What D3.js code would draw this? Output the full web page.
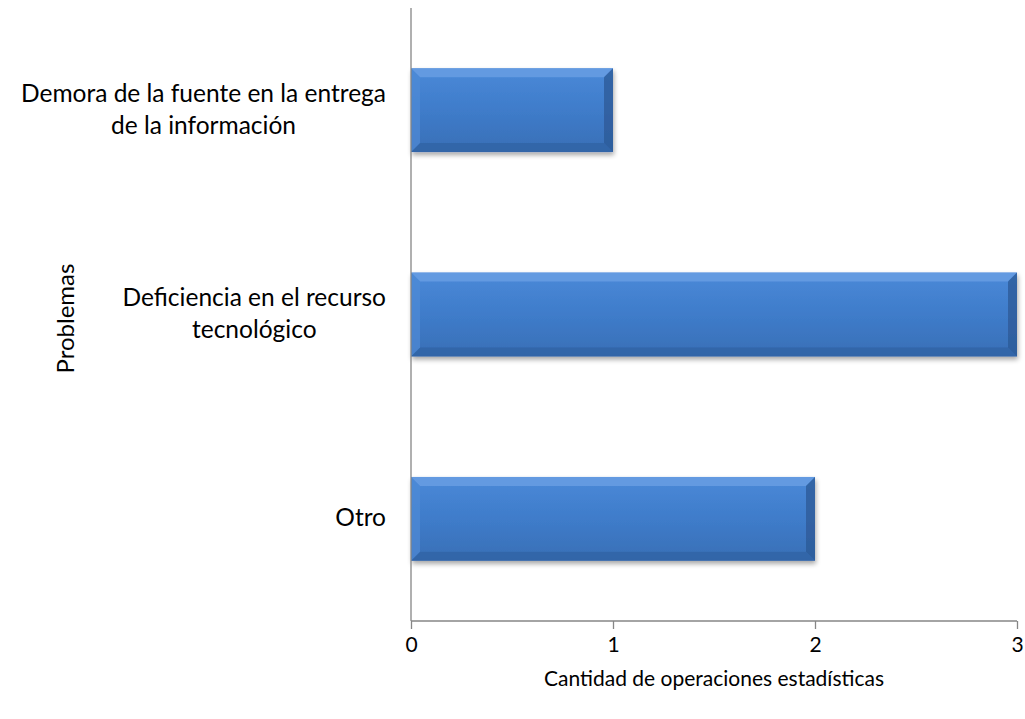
<html>
<head>
<meta charset="utf-8">
<script src="https://d3js.org/d3.v7.min.js"></script>
<style>
    body, html { margin: 0; padding: 0; background: #fff; }
    text { font-family: "Lato", "Liberation Sans", sans-serif; fill: #000; }
</style>
</head>
<body>
<div id="chart"></div>
<script>
// data
var problems = ["Demora de la fuente en la entrega|de la información",
                "Deficiencia en el recurso|tecnológico",
                "Otro"];
var counts = [1, 3, 2];
var xTicks = [0, 1, 2, 3];

var w = 1025, h = 719;
var plotLeft = 411, plotRight = 1017, plotTop = 8, plotBottom = 621;

var svg = d3.select("#chart").append("svg")
    .attr("width", w)
    .attr("height", h);

var defs = svg.append("defs");

var grad = defs.append("linearGradient")
    .attr("id", "barFill")
    .attr("x1", 0).attr("y1", 0).attr("x2", 0).attr("y2", 1);
grad.append("stop").attr("offset", "0%").attr("stop-color", "#4a89d8");
grad.append("stop").attr("offset", "50%").attr("stop-color", "#3f7cca");
grad.append("stop").attr("offset", "100%").attr("stop-color", "#386fb6");

var shadow = defs.append("filter")
    .attr("id", "shadow")
    .attr("x", "-5%").attr("y", "-10%").attr("width", "115%").attr("height", "130%");
shadow.append("feGaussianBlur").attr("in", "SourceAlpha").attr("stdDeviation", 2.5);
shadow.append("feOffset").attr("dx", 1).attr("dy", 3).attr("result", "off");
shadow.append("feComponentTransfer").append("feFuncA").attr("type", "linear").attr("slope", 0.35);
var merge = shadow.append("feMerge");
merge.append("feMergeNode");
merge.append("feMergeNode").attr("in", "SourceGraphic");

var x = d3.scaleLinear()
    .domain([0, 3])
    .range([plotLeft, plotRight]);

var y = d3.scaleBand()
    .domain(problems)
    .range([plotTop, plotBottom])
    .paddingInner(0.59)
    .paddingOuter(0.295);

// bars
var bev = 9;
var bars = svg.append("g")
    .selectAll("g")
    .data(problems)
    .enter()
    .append("g")
    .attr("filter", "url(#shadow)");

bars.append("rect")
    .attr("x", x(0))
    .attr("y", function (d) { return y(d); })
    .attr("width", function (d, i) { return x(counts[i]) - x(0); })
    .attr("height", y.bandwidth())
    .attr("fill", "url(#barFill)");

// bevel edges
bars.append("path")
    .attr("fill", "#6a9fe3")
    .attr("opacity", 0.8)
    .attr("d", function (d, i) {
        var x0 = x(0), x1 = x(counts[i]), y0 = y(d);
        return "M" + x0 + "," + y0 + "L" + x1 + "," + y0 + "L" + (x1 - bev) + "," + (y0 + bev) +
            "L" + (x0 + bev) + "," + (y0 + bev) + "Z";
    });
bars.append("path")
    .attr("fill", "#2c5a96")
    .attr("opacity", 0.75)
    .attr("d", function (d, i) {
        var x1 = x(counts[i]), y0 = y(d), y1 = y0 + y.bandwidth();
        return "M" + x1 + "," + y0 + "L" + x1 + "," + y1 + "L" + (x1 - bev) + "," + (y1 - bev) +
            "L" + (x1 - bev) + "," + (y0 + bev) + "Z";
    });
bars.append("path")
    .attr("fill", "#2f5f9f")
    .attr("opacity", 0.6)
    .attr("d", function (d, i) {
        var x0 = x(0), x1 = x(counts[i]), y1 = y(d) + y.bandwidth();
        return "M" + x0 + "," + y1 + "L" + x1 + "," + y1 + "L" + (x1 - bev) + "," + (y1 - bev) +
            "L" + (x0 + bev) + "," + (y1 - bev) + "Z";
    });
bars.append("path")
    .attr("fill", "#4f8ad6")
    .attr("opacity", 0.7)
    .attr("d", function (d, i) {
        var x0 = x(0), y0 = y(d), y1 = y0 + y.bandwidth();
        return "M" + x0 + "," + y0 + "L" + (x0 + bev) + "," + (y0 + bev) + "L" + (x0 + bev) + "," + (y1 - bev) +
            "L" + x0 + "," + y1 + "Z";
    });

// axes
var xAxis = svg.append("g")
    .attr("transform", "translate(0," + plotBottom + ")")
    .call(d3.axisBottom(x).tickValues(xTicks).tickFormat(d3.format("d")).tickSize(8).tickPadding(8));
xAxis.select(".domain").attr("stroke", "#868686").attr("stroke-width", 1.3).attr("d", "M" + plotLeft + ",0H" + plotRight);
xAxis.selectAll(".tick line").attr("stroke", "#868686").attr("stroke-width", 1.3);
xAxis.selectAll(".tick text").style("font-size", "21px").attr("fill", "#000");

svg.append("line")
    .attr("x1", plotLeft).attr("x2", plotLeft)
    .attr("y1", plotTop).attr("y2", plotBottom)
    .attr("stroke", "#868686")
    .attr("stroke-width", 1.3);

// category labels, lines centred, block right-aligned
var labelRight = 386;
var lineH = 32;
problems.forEach(function (p) {
    var lines = p.split("|");
    var g = svg.append("g");
    var texts = lines.map(function (l) {
        return g.append("text").style("font-size", "24.5px").text(l);
    });
    var maxW = d3.max(texts, function (t) { return t.node().getComputedTextLength(); });
    var cx = labelRight - maxW / 2;
    var cy = y(p) + y.bandwidth() / 2;
    texts.forEach(function (t, k) {
        t.attr("x", cx)
            .attr("text-anchor", "middle")
            .attr("dominant-baseline", "central")
            .attr("y", cy + (k - (lines.length - 1) / 2) * lineH - 2);
    });
});

// axis titles
svg.append("text")
    .attr("x", (plotLeft + plotRight) / 2)
    .attr("y", 686)
    .attr("text-anchor", "middle")
    .style("font-size", "21px")
    .text("Cantidad de operaciones estadísticas");

svg.append("text")
    .attr("transform", "translate(74," + ((plotTop + plotBottom) / 2 + 4) + ") rotate(-90)")
    .attr("text-anchor", "middle")
    .style("font-size", "24px")
    .text("Problemas");
</script>
</body>
</html>
